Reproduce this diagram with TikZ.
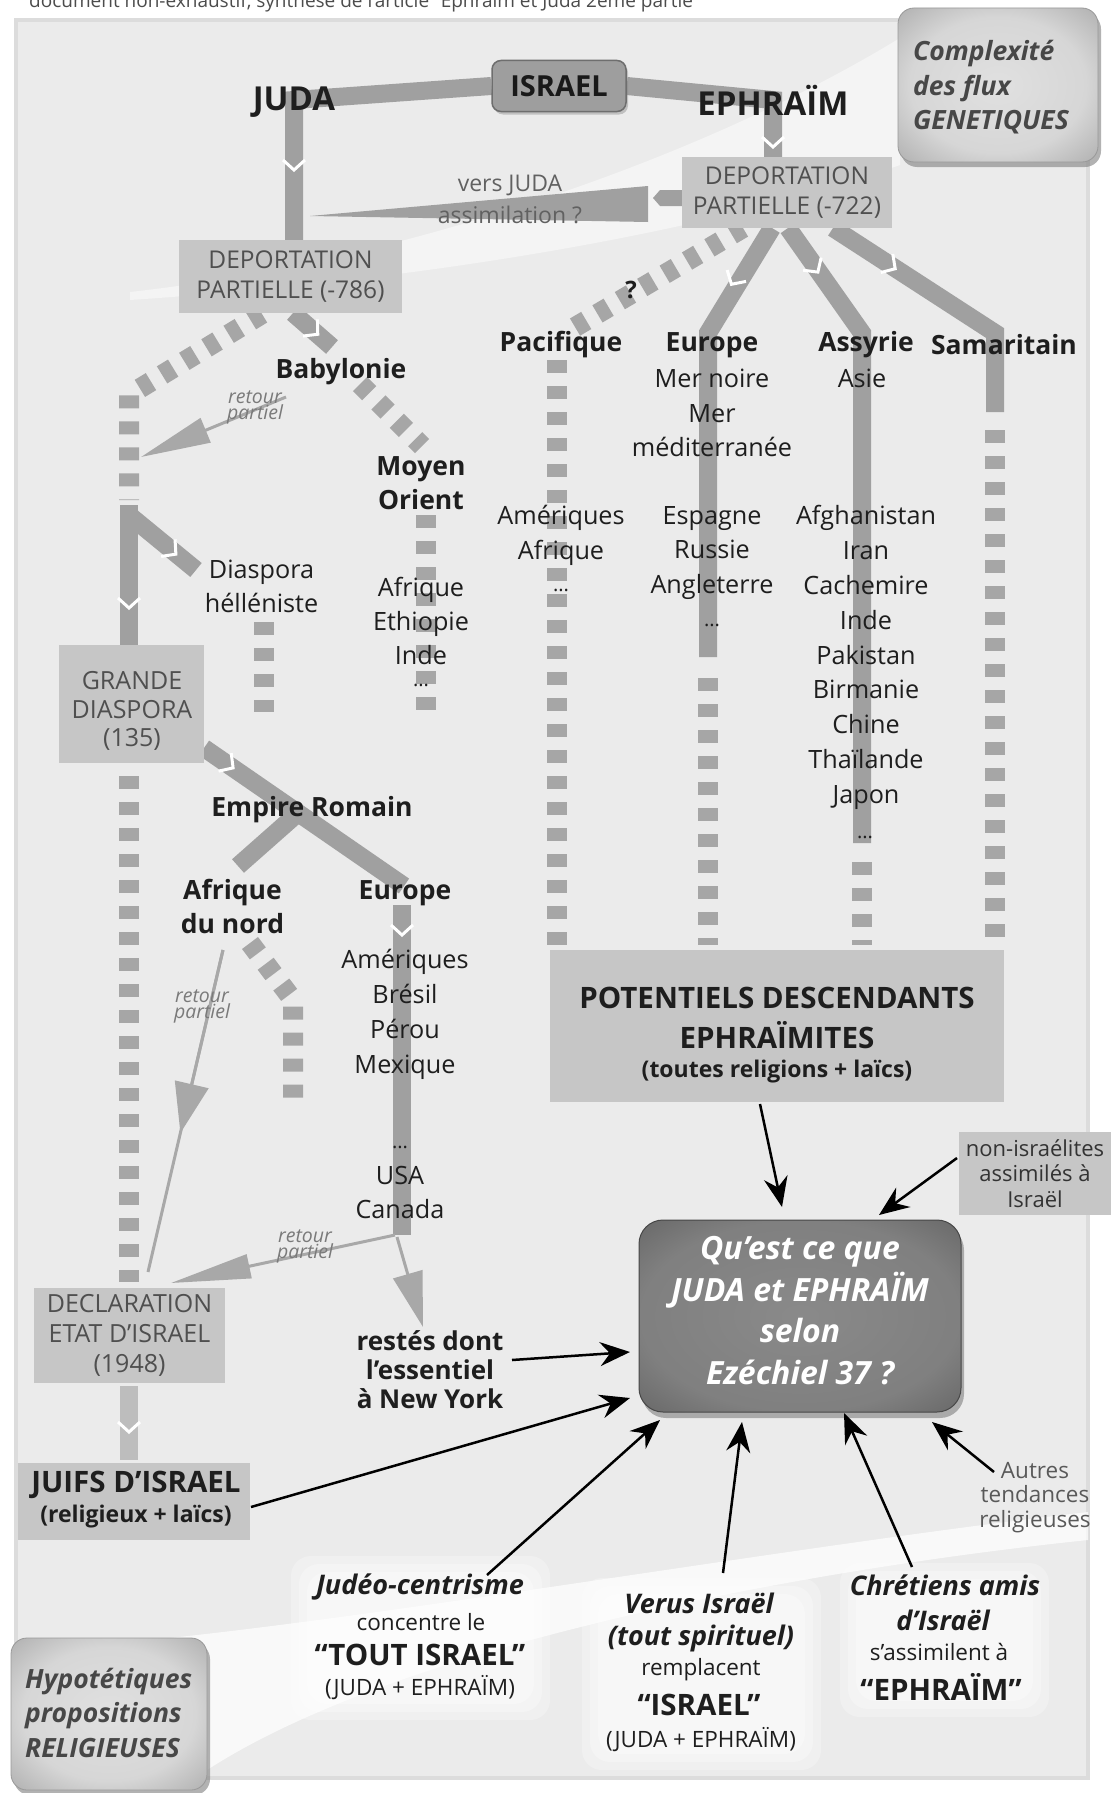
\documentclass[tikz,border=0pt]{standalone}
\usepackage{fontspec}
\setmainfont{Open Sans}
\usetikzlibrary{arrows.meta,shadows}
\definecolor{panelc}{HTML}{EBEBEB}
\definecolor{panelrimc}{HTML}{DCDCDC}
\definecolor{bandc}{HTML}{A0A0A0}
\definecolor{dbandc}{HTML}{A6A6A6}
\definecolor{boxc}{HTML}{C6C6C6}
\definecolor{boxtextc}{HTML}{4F4F4F}
\definecolor{retourc}{HTML}{A8A8A8}
\definecolor{darkc}{HTML}{1E1E1E}
\pgfdeclareradialshading{softbox}{\pgfpoint{0bp}{0bp}}{color(0bp)=(black!12); color(22bp)=(black!16); color(50bp)=(black!47)}
\pgfdeclareradialshading{darkbox}{\pgfpoint{0bp}{0bp}}{color(0bp)=(black!46); color(25bp)=(black!50); color(50bp)=(black!72)}
\pgfdeclarelayer{base}
\pgfdeclarelayer{bg}
\pgfsetlayers{base,bg,main}
\newcommand{\chevmark}[3]{\begin{scope}[shift={(#1,#2)},rotate=#3]\draw[white,line width=3pt] (-11pt,5pt)--(0pt,-5pt)--(11pt,5pt);\end{scope}}
\tikzset{
  bandline/.style={draw=bandc, line width=18pt},
  dotband/.style={draw=dbandc, line width=20pt, dash pattern=on 13pt off 13pt},
  graybox/.style={fill=boxc, inner sep=0pt, text=boxtextc, align=center, font=\fontsize{24.5}{30}\selectfont},
  lbl/.style={font=\bfseries\fontsize{26.5}{34}\selectfont, text=darkc, inner sep=1pt, align=center},
  lst/.style={font=\fontsize{25.2}{34.8}\selectfont, text=darkc, inner sep=1pt, align=center},
  ellip/.style={font=\fontsize{20}{20}\selectfont, text=darkc, inner sep=0pt},
  retourlbl/.style={font=\itshape\fontsize{19.5}{16}\selectfont, text=black!52, align=center, inner sep=0pt},
  retourline/.style={draw=retourc, line width=3pt},
  blackarrow/.style={draw=black, line width=2.5pt, -{Stealth[length=30pt,width=24pt,inset=10pt]}},
  glowbox/.style={fill=white, fill opacity=0.28, rounded corners=20pt},
  softnode/.style={rounded corners=16pt, shade, shading=softbox, draw=black!40, line width=0.8pt, drop shadow={opacity=0.6, shadow xshift=3pt, shadow yshift=-5pt}},
  softtext/.style={font=\bfseries\itshape\fontsize{26.5}{34.5}\selectfont, text=black!72, align=left, inner sep=0pt},
  bitalic/.style={font=\bfseries\itshape\fontsize{27}{30}\selectfont, text=darkc, inner sep=0pt},
  reg22/.style={font=\fontsize{22.5}{26}\selectfont, text=darkc, inner sep=0pt},
  bigbold/.style={font=\bfseries\fontsize{29.5}{34}\selectfont, text=darkc, inner sep=0pt},
}
\begin{document}
\begin{tikzpicture}[x=1pt,y=-1pt]
\useasboundingbox (0,0) rectangle (1112,1793);
\begin{pgfonlayer}{base}
\fill[white] (0,0) rectangle (1112,1793);
\fill[panelc] (16,20) rectangle (1088,1778);
\draw[panelrimc, line width=4pt] (16,20) rectangle (1088,1778);
\fill[white, opacity=0.45] (130,292) .. controls (400,262) and (700,160) .. (900,38) -- (900,165) .. controls (760,215) and (500,275) .. (130,300) -- cycle;
\fill[white, opacity=0.7] (150,1640) .. controls (400,1615) and (800,1545) .. (1088,1512) -- (1088,1540) .. controls (800,1570) and (400,1645) .. (207,1770) -- cycle;
\end{pgfonlayer}

\node[anchor=base west, font=\fontsize{19}{19}\selectfont, text=black!70, inner sep=0pt] (header) at (29,8) {document non-exhaustif, synthèse de l’article “Ephraïm et Juda 2ème partie};

% ---------- boxes ----------
\node[softnode, minimum width=200pt, minimum height=154pt] (complex) at (998,85) {};
\node[softtext, anchor=west] (complexT) at (913,87.5) {Complexité\\des flux\\GENETIQUES};
\node[rounded corners=9pt, fill=black!38, draw=black!57, line width=1.5pt, minimum width=134pt, minimum height=51pt, font=\bfseries\fontsize{29}{30}\selectfont, text=black!90, drop shadow={opacity=0.4, shadow xshift=2pt, shadow yshift=-3pt}] (israel) at (559,86) {ISRAEL};
\node[font=\bfseries\fontsize{33}{34}\selectfont, text=darkc, inner sep=1pt] (juda) at (294,102) {JUDA};
\node[font=\bfseries\fontsize{33}{34}\selectfont, text=darkc, inner sep=1pt] (ephraim) at (773,100) {EPHRAÏM};
\node[graybox, minimum width=210pt, minimum height=71pt] (dep722) at (787,192.5) {DEPORTATION\\PARTIELLE (-722)};
\node[graybox, minimum width=223pt, minimum height=73pt] (dep786) at (290.5,276.5) {DEPORTATION\\PARTIELLE (-786)};
\node[graybox, minimum width=145pt, minimum height=118pt] (grande) at (131.5,704) {};
\node[inner sep=0pt, text=boxtextc, align=center, font=\fontsize{25}{28.5}\selectfont] (grandeT) at (132,711) {GRANDE\\DIASPORA\\(135)};
\node[graybox, minimum width=191pt, minimum height=95pt, font=\fontsize{25}{30}\selectfont] (declar) at (129.5,1335.5) {DECLARATION\\ETAT D’ISRAEL\\(1948)};
\node[graybox, minimum width=454pt, minimum height=152pt] (potent) at (777,1026) {};
\node[font=\bfseries\fontsize{29.5}{40}\selectfont, text=darkc, align=center, inner sep=0pt] (potentT) at (777,1018) {POTENTIELS DESCENDANTS\\EPHRAÏMITES};
\node[font=\bfseries\fontsize{23}{24}\selectfont, text=darkc, inner sep=0pt] (potentS) at (777,1072) {(toutes religions + laïcs)};
\node[graybox, minimum width=232pt, minimum height=77pt] (juifs) at (134,1501.5) {};
\node[font=\bfseries\fontsize{29.5}{32}\selectfont, text=darkc, inner sep=0pt] (juifsT) at (136,1485) {JUIFS D’ISRAEL};
\node[font=\bfseries\fontsize{23}{24}\selectfont, text=darkc, inner sep=0pt] (juifsS) at (136,1517) {(religieux + laïcs)};
\node[graybox, minimum width=152pt, minimum height=83pt, font=\fontsize{22}{25.5}\selectfont, text=black!80] (nonisr) at (1035,1173.5) {non-israélites\\assimilés à\\Israël};
\node[rounded corners=24pt, shade, shading=darkbox, draw=black!72, line width=1pt, minimum width=322pt, minimum height=192pt, drop shadow={opacity=0.6, shadow xshift=3pt, shadow yshift=-6pt}] (central) at (800,1316) {};
\node[font=\bfseries\itshape\fontsize{32}{41.7}\selectfont, text=white, align=center, inner sep=0pt] (centralT) at (800,1310.5) {Qu’est ce que\\JUDA et EPHRAÏM\\selon\\Ezéchiel 37 ?};
\node[softnode, minimum width=196pt, minimum height=152pt] (hypo) at (109,1714) {};
\node[softtext, anchor=west] (hypoT) at (25,1712.5) {Hypotétiques\\propositions\\RELIGIEUSES};

% ---------- coordinates ----------
\coordinate (jcorner) at (294,100);
\coordinate (ecorner) at (773,100);
\coordinate (pacS) at (743,228); \coordinate (pacB) at (565,333);
\coordinate (pacV1) at (557,360); \coordinate (pacV2) at (557,945);
\coordinate (eurS) at (772,228); \coordinate (eurB) at (708,333); \coordinate (eurE) at (708,657);
\coordinate (eurD1) at (708,678); \coordinate (eurD2) at (708,945);
\coordinate (assS) at (788,228); \coordinate (assB) at (862,333); \coordinate (assE) at (862,843);
\coordinate (assD1) at (862,862); \coordinate (assD2) at (862,945);
\coordinate (samS) at (833,228); \coordinate (samB) at (995,333); \coordinate (samE) at (995,412);
\coordinate (samD1) at (995,430); \coordinate (samD2) at (995,945);
\coordinate (lS) at (262,314); \coordinate (lB) at (129,395); \coordinate (lD) at (129,500);
\coordinate (lV1) at (129,505); \coordinate (lV2) at (129,645);
\coordinate (hel1) at (129,515); \coordinate (hel2) at (196,570);
\coordinate (helD1) at (264,622); \coordinate (helD2) at (264,712);
\coordinate (bab1) at (293,313); \coordinate (bab2) at (332,347);
\coordinate (mo1) at (360,384); \coordinate (mo2) at (422,446);
\coordinate (moD1) at (426,515); \coordinate (moD2) at (426,712);
\coordinate (r1a) at (286,397); \coordinate (r1b) at (141,457);
\coordinate (gD1) at (129,776); \coordinate (gD2) at (129,1282);
\coordinate (rom1) at (204,748); \coordinate (rom2) at (404,886);
\coordinate (afn1) at (298,813); \coordinate (afn2) at (238,866);
\coordinate (afD1) at (250,943); \coordinate (afD2) at (293,1000); \coordinate (afD3) at (293,1100);
\coordinate (euV1) at (402,905); \coordinate (euV2) at (402,1235);
\coordinate (r2a) at (223,950); \coordinate (r2m) at (180.4,1133); \coordinate (r2b) at (148,1272);
\coordinate (r3a) at (395,1235); \coordinate (r3b) at (171,1283);
\coordinate (nyA) at (397,1237); \coordinate (nyB) at (423,1327);
\coordinate (dj1) at (129,1386); \coordinate (dj2) at (129,1460);
\coordinate (vjTip) at (310,216);

% ---------- bands ----------
\begin{pgfonlayer}{bg}
\draw[bandline] (jcorner |- dep786.north) -- (jcorner) -- (israel.west);
\draw[bandline] (israel.east) -- (ecorner) -- (ecorner |- dep722.north);
\chevmark{294}{165}{0}
\chevmark{773}{142}{0}
% vers JUDA
\fill[bandc] (vjTip) -- (648,186) -- (648,222) -- cycle;
\fill[bandc] (dep722.west |- 0,190) -- (660,190) -- (653,198) -- (660,206) -- (dep722.west |- 0,206) -- cycle;
% Ephraim branches
\draw[dotband] (pacS) -- (pacB);
\draw[dotband] (pacV1) -- (pacV2);
\draw[bandline] (eurS) -- (eurB) -- (eurE);
\draw[dotband] (eurD1) -- (eurD2);
\draw[bandline] (assS) -- (assB) -- (assE);
\draw[dotband] (assD1) -- (assD2);
\draw[bandline] (samS) -- (samB) -- (samE);
\draw[dotband] (samD1) -- (samD2);
\chevmark{734}{280}{-31}
\chevmark{815}{268}{35}
\chevmark{891}{266}{57}
% Juda branches
\draw[dotband] (lS) -- (lB) -- (lD);
\draw[bandline] (lV1) -- (lV2);
\draw[bandline] (hel1) -- (hel2);
\draw[dotband] (helD1) -- (helD2);
\draw[bandline] (bab1) -- (bab2);
\draw[dotband] (mo1) -- (mo2);
\draw[dotband] (moD1) -- (moD2);
\chevmark{129}{603}{0}
\chevmark{172}{551}{51}
\chevmark{314}{331}{49}
\draw[retourline, -{Triangle[length=70pt,width=26pt]}] (r1a) -- (r1b);
% Grande diaspora
\draw[dotband] (gD1) -- (gD2);
\draw[bandline] (rom1) -- (rom2);
\draw[bandline] (afn1) -- (afn2);
\draw[dotband] (afD1) -- (afD2) -- (afD3);
\draw[bandline] (euV1) -- (euV2);
\chevmark{229}{765}{55}
\chevmark{402}{930}{0}
\draw[retourline] (r2a) -- (r2b);
\draw[retourline, -{Triangle[length=50pt,width=34pt]}] (r2a) -- (r2m);
\draw[retourline, -{Triangle[length=80pt,width=24pt]}] (r3a) -- (r3b);
\draw[retourline, -{Triangle[length=55pt,width=30pt]}] (nyA) -- (nyB);
\draw[bandline, draw=black!26] (dj1) -- (dj2);
\chevmark{129}{1427}{0}
\end{pgfonlayer}

% ---------- labels ----------
\node[font=\fontsize{23}{32}\selectfont, text=black!62, align=center, inner sep=0pt] (versjuda) at (510,199) {vers JUDA\\assimilation ?};
\node[lbl] (pacif) at (561,345) {Pacifique};
\node[lbl] (europe1) at (712,345) {Europe};
\node[lbl] (assyr) at (866,345) {Assyrie};
\node[lbl] (samar) at (1004,345) {Samaritain};
\node[lbl, font=\bfseries\fontsize{24}{26}\selectfont] (qmark) at (631,290) {?};
\node[lst] (merl) at (712,413) {Mer noire\\Mer\\méditerranée};
\node[lst] (asie) at (862,378) {Asie};
\node[lst] (pacl) at (561,535.5) {Amériques\\Afrique};
\node[ellip] (pacdots) at (561,590) {...};
\node[lst] (eurl) at (712,553) {Espagne\\Russie\\Angleterre};
\node[ellip] (eurdots) at (712,625) {...};
\node[lst] (assl) at (866,657.5) {Afghanistan\\Iran\\Cachemire\\Inde\\Pakistan\\Birmanie\\Chine\\Thaïlande\\Japon};
\node[ellip] (assdots) at (865,837) {...};
\node[lbl] (babyl) at (341,372) {Babylonie};
\node[lbl] (moyen) at (421,483.5) {Moyen\\Orient};
\node[lst, font=\fontsize{25.2}{34}\selectfont] (hellen) at (261.5,586.5) {Diaspora\\hélléniste};
\node[lst, font=\fontsize{25.2}{34}\selectfont] (mol) at (421,621) {Afrique\\Ethiopie\\Inde};
\node[ellip] (modots) at (421,685) {...};
\node[retourlbl] (ret1) at (255,407.5) {retour\\partiel};
\node[lbl] (empire) at (312,810) {Empire Romain};
\node[lbl] (afnord) at (232.5,906.5) {Afrique\\du nord};
\node[lbl] (europe2) at (405,893) {Europe};
\node[lst] (ameriq) at (405,1014.5) {Amériques\\Brésil\\Pérou\\Mexique};
\node[ellip] (usadots) at (400,1147) {...};
\node[lst] (usa) at (400,1192.5) {USA\\Canada};
\node[retourlbl] (ret2) at (202,1006) {retour\\partiel};
\node[retourlbl] (ret3) at (305,1246) {retour\\partiel};
\node[lbl, font=\bfseries\fontsize{26}{29}\selectfont] (restes) at (430,1370) {restés dont\\l’essentiel\\à New York};

% ---------- bottom texts ----------
\fill[glowbox] (291,1556) rectangle (550,1720);
\fill[glowbox] (299,1564) rectangle (542,1712);
\fill[glowbox] (307,1572) rectangle (534,1704);
\fill[glowbox] (582,1578) rectangle (821,1770);
\fill[glowbox] (590,1586) rectangle (813,1762);
\fill[glowbox] (598,1594) rectangle (805,1754);
\fill[glowbox] (840,1563) rectangle (1049,1717);
\fill[glowbox] (848,1571) rectangle (1041,1709);
\fill[glowbox] (856,1579) rectangle (1033,1701);
\node[bitalic] (jc1) at (420,1587) {Judéo-centrisme};
\node[reg22] (jc2) at (421,1622) {concentre le};
\node[bigbold] (jc3) at (420,1655) {“TOUT ISRAEL”};
\node[reg22] (jc4) at (420,1688) {(JUDA + EPHRAÏM)};
\node[bitalic] (vi1) at (699,1603) {Verus Israël};
\node[bitalic] (vi2) at (701,1638) {(tout spirituel)};
\node[reg22] (vi3) at (701,1670) {remplacent};
\node[bigbold] (vi4) at (699,1705) {“ISRAEL”};
\node[reg22] (vi5) at (701,1740) {(JUDA + EPHRAÏM)};
\node[bitalic] (ch1) at (945,1585) {Chrétiens amis};
\node[bitalic] (ch2) at (943,1620) {d’Israël};
\node[reg22] (ch3) at (939,1652) {s’assimilent à};
\node[bigbold] (ch4) at (941,1687) {“EPHRAÏM”};
\node[font=\fontsize{22.5}{24.5}\selectfont, text=black!65, align=center, inner sep=0pt] (autres) at (1035,1497.5) {Autres\\tendances\\religieuses};

% ---------- black arrows ----------
\coordinate (aP1) at (760,1104); \coordinate (aP2) at (782,1207);
\coordinate (aN1) at (957,1158); \coordinate (aN2) at (879,1215);
\coordinate (aR1) at (512,1360); \coordinate (aR2) at (630,1352);
\coordinate (aJ1) at (251,1507); \coordinate (aJ2) at (630,1398);
\coordinate (aC1) at (487,1575); \coordinate (aC2) at (660,1420);
\coordinate (aV1) at (723,1573); \coordinate (aV2) at (742,1422);
\coordinate (aH1) at (912,1567); \coordinate (aH2) at (844,1413);
\coordinate (aA1) at (994,1472); \coordinate (aA2) at (932,1422);
\draw[blackarrow] (aP1) -- (aP2);
\draw[blackarrow] (aN1) -- (aN2);
\draw[blackarrow] (aR1) -- (aR2);
\draw[blackarrow] (aJ1) -- (aJ2);
\draw[blackarrow] (aC1) -- (aC2);
\draw[blackarrow] (aV1) -- (aV2);
\draw[blackarrow] (aH1) -- (aH2);
\draw[blackarrow] (aA1) -- (aA2);
\end{tikzpicture}
\end{document}
